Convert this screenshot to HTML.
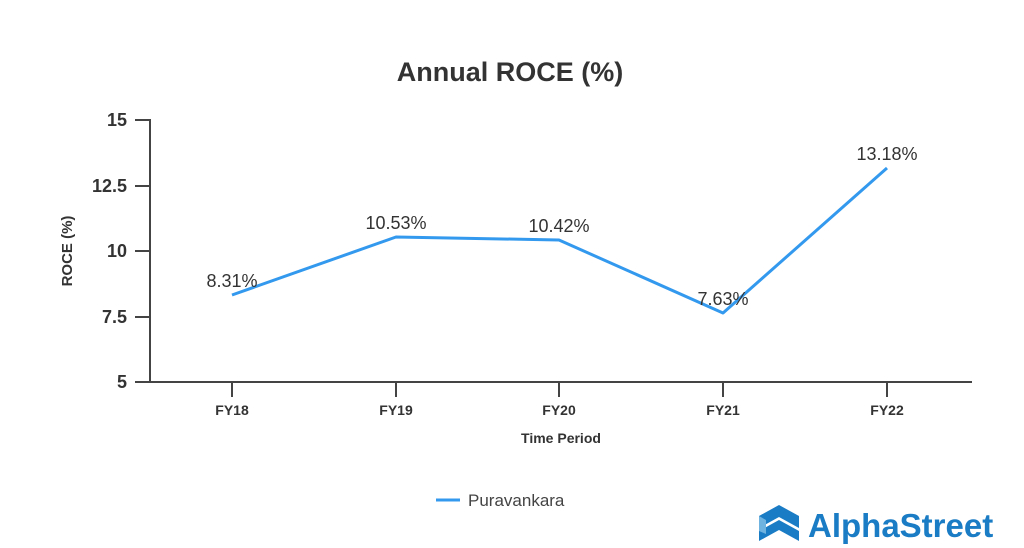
<!DOCTYPE html>
<html><head><meta charset="utf-8"><style>
html,body{margin:0;padding:0;background:#fff;width:1024px;height:548px;overflow:hidden}
</style></head><body>
<svg width="1024" height="548" viewBox="0 0 1024 548" xmlns="http://www.w3.org/2000/svg" font-family="Liberation Sans, sans-serif">
<text x="510" y="81" text-anchor="middle" font-size="27" font-weight="bold" fill="#333">Annual ROCE (%)</text>
<g stroke="#444" stroke-width="2" fill="none">
<line x1="150" y1="119" x2="150" y2="383"/>
<line x1="149" y1="382" x2="972" y2="382"/>
<line x1="135" y1="120" x2="150" y2="120"/>
<line x1="135" y1="186" x2="150" y2="186"/>
<line x1="135" y1="251" x2="150" y2="251"/>
<line x1="135" y1="317" x2="150" y2="317"/>
<line x1="135" y1="382" x2="150" y2="382"/>
<line x1="232" y1="382" x2="232" y2="397"/>
<line x1="396" y1="382" x2="396" y2="397"/>
<line x1="559" y1="382" x2="559" y2="397"/>
<line x1="723" y1="382" x2="723" y2="397"/>
<line x1="887" y1="382" x2="887" y2="397"/>
</g>
<g font-size="18" font-weight="bold" fill="#333" text-anchor="end">
<text x="127" y="126">15</text>
<text x="127" y="192">12.5</text>
<text x="127" y="257">10</text>
<text x="127" y="323">7.5</text>
<text x="127" y="388">5</text>
</g>
<text transform="translate(72,251) rotate(-90)" text-anchor="middle" font-size="15" font-weight="bold" fill="#333">ROCE (%)</text>
<g font-size="14" font-weight="bold" fill="#333" text-anchor="middle">
<text x="232" y="415">FY18</text>
<text x="396" y="415">FY19</text>
<text x="559" y="415">FY20</text>
<text x="723" y="415">FY21</text>
<text x="887" y="415">FY22</text>
<text x="561" y="443">Time Period</text>
</g>
<polyline points="232,295 396,237 559,240 723,313 887,168" fill="none" stroke="#3399ee" stroke-width="3" stroke-linejoin="round"/>
<g font-size="18" fill="#333" text-anchor="middle">
<text x="232" y="287">8.31%</text>
<text x="396" y="229">10.53%</text>
<text x="559" y="232">10.42%</text>
<text x="723" y="305">7.63%</text>
<text x="887" y="160">13.18%</text>
</g>
<line x1="436" y1="500" x2="460" y2="500" stroke="#3399ee" stroke-width="3"/>
<text x="468" y="506" font-size="17" fill="#444">Puravankara</text>
<g>
<polygon points="779,505 799,516 799,528 779,517 759,528 759,516" fill="#1a7cc4"/>
<polygon points="779,520 799,531 799,541 779,530 759,541 759,531" fill="#1a7cc4"/>
<polygon points="759,516 766,520 766,534 759,531" fill="#6fb3e0"/>
</g>
<text x="808" y="537" font-size="33" font-weight="bold" fill="#1a7cc4">AlphaStreet</text>
</svg>
</body></html>
